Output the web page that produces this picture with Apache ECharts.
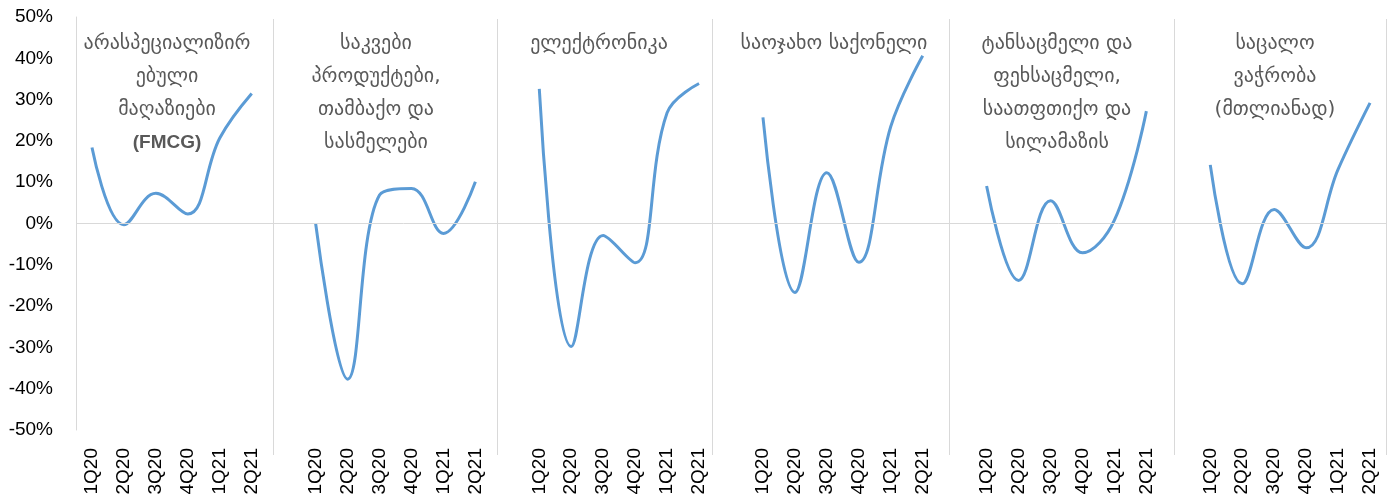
<!DOCTYPE html>
<html>
<head>
<meta charset="utf-8">
<script src="https://cdn.jsdelivr.net/npm/echarts@6/dist/echarts.min.js"></script>
<style>
  html, body { margin: 0; padding: 0; background: #fff; }
  #contain { width: 1390px; height: 502px; }
</style>
</head>
<body>
<div id="contain"></div>
<script>
const quarters = ['1Q20', '2Q20', '3Q20', '4Q20', '1Q21', '2Q21'];
const groupTitles = [
  'არასპეციალიზირ\nებული\nმაღაზიები\n{b|(FMCG)}',
  'საკვები\nპროდუქტები,\nთამბაქო და\nსასმელები',
  'ელექტრონიკა',
  'საოჯახო საქონელი',
  'ტანსაცმელი და\nფეხსაცმელი,\nსაათფთიქო და\nსილამაზის',
  'საცალო\nვაჭრობა\n(მთლიანად)'
];
// % change
const fmcg = [18.4, -0.3, 7.3, 2.3, 20.7, 31.5];
const food = [0, -37.7, 6.9, 8.5, -2.4, 10.1];
const electronics = [32.6, -29.8, -2.9, -9.5, 26.8, 33.9];
const household = [25.7, -16.7, 12.3, -9.4, 23.5, 40.6];
const clothing = [9.1, -13.8, 5.5, -7.1, 0.8, 27.2];
const retailTotal = [14.2, -14.6, 3.4, -5.9, 13.1, 29.2];
// separator lines, in category slots from the left edge
const separators = [6.17, 13.18, 19.91, 27.32, 34.37, 41];

const groups = [fmcg, food, electronics, household, clothing, retailTotal];
const titleCenters = [167, 376, 599, 834, 1057, 1275];

const categories = [];
const values = [];
groups.forEach((g, i) => {
  quarters.forEach((q, j) => {
    categories.push(q);
    values.push(g[j]);
  });
  if (i < groups.length - 1) {
    categories.push('');
    values.push(null);
  }
});

const chart = echarts.init(document.getElementById('contain'));

const option = {
  animation: false,
  title: groupTitles.map((t, i) => ({
    text: t,
    left: titleCenters[i],
    top: 27,
    padding: 0,
    textAlign: 'center',
    textStyle: {
      fontFamily: 'DejaVu Sans',
      fontSize: 20,
      fontWeight: 'normal',
      color: '#595959',
      lineHeight: 33,
      rich: {
        b: { fontFamily: 'Liberation Sans', fontSize: 19, fontWeight: 'bold', color: '#595959', lineHeight: 33 }
      }
    }
  })),
  grid: [
    { left: 76, right: 4, top: 17, bottom: 72 },
    { left: 76, right: 4, top: 19, bottom: 47 }
  ],
  xAxis: [
    {
      type: 'category',
      gridIndex: 0,
      data: categories,
      boundaryGap: true,
      axisLine: { show: false, onZero: false },
      axisTick: { show: false },
      axisLabel: {
        interval: 0,
        rotate: 90,
        margin: 18,
        fontFamily: 'Liberation Sans',
        fontSize: 19,
        color: '#000'
      }
    },
    { type: 'value', gridIndex: 1, min: 0, max: 41, show: false }
  ],
  yAxis: [
    {
      type: 'value',
      gridIndex: 0,
      min: -50,
      max: 50,
      interval: 10,
      axisLine: { show: true, lineStyle: { color: '#d9d9d9', width: 1 } },
      axisTick: { show: false },
      splitLine: { show: false },
      axisLabel: {
        formatter: '{value}%',
        margin: 23,
        fontFamily: 'Liberation Sans',
        fontSize: 19,
        color: '#000'
      }
    },
    { type: 'value', gridIndex: 1, min: 0, max: 1, show: false }
  ],
  series: [
    {
      type: 'line',
      xAxisIndex: 1,
      yAxisIndex: 1,
      data: [],
      silent: true,
      z: 1,
      markLine: {
        silent: true,
        symbol: ['none', 'none'],
        label: { show: false },
        lineStyle: { color: '#d9d9d9', width: 1, type: 'solid' },
        data: separators.map(s => ({ xAxis: s }))
      }
    },
    {
      type: 'line',
      data: [],
      silent: true,
      z: 1,
      markLine: {
        silent: true,
        symbol: ['none', 'none'],
        label: { show: false },
        lineStyle: { color: '#d9d9d9', width: 1, type: 'solid' },
        data: [{ yAxis: 0 }]
      }
    },
    {
      type: 'line',
      data: values,
      smooth: 0.4,
      connectNulls: false,
      showSymbol: false,
      z: 3,
      lineStyle: { color: '#5b9bd5', width: 3 }
    }
  ]
};

chart.setOption(option);
</script>
</body>
</html>
